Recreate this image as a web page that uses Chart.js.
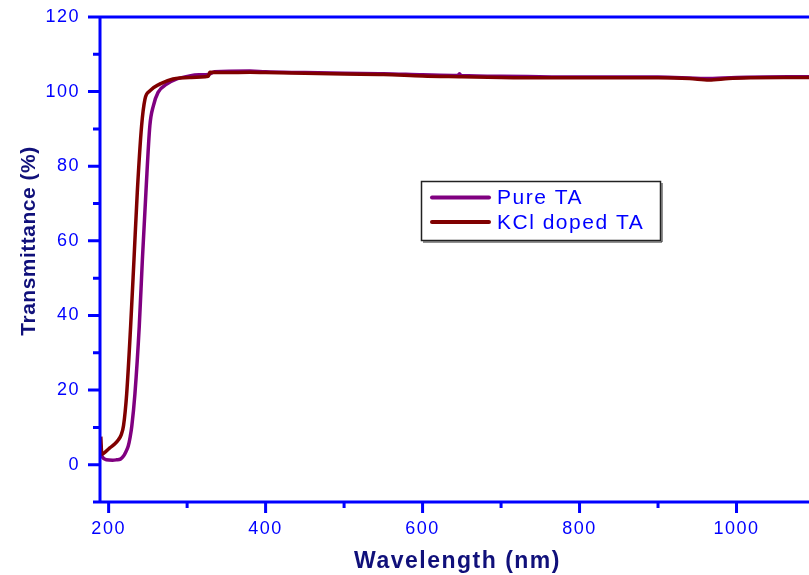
<!DOCTYPE html>
<html>
<head>
<meta charset="utf-8">
<title>Transmittance</title>
<script src="https://cdn.jsdelivr.net/npm/chart.js@4.4.1/dist/chart.umd.min.js"></script>
<style>
  html, body { margin: 0; padding: 0; background: #fff; overflow: hidden; }
  #wrap { width: 809px; height: 575px; overflow: hidden; }
</style>
</head>
<body>
<div id="wrap"><canvas id="uv_chart" width="816" height="575"></canvas></div>
<script>
// values
const pureWl = [190, 191.5, 197, 205, 210, 215, 219, 222, 225, 227.5, 229.5, 233.5, 239, 243, 247.5, 252.5, 257, 263, 274, 287, 303, 315, 327, 335, 380, 400, 450, 500, 550, 600, 645, 647, 649, 700, 800, 900, 960, 1000, 1100];
const pureT = [3, 2.2, 1.3, 1.2, 1.3, 1.5, 2.3, 3.5, 5, 7.5, 10.3, 19, 37, 55, 73, 90.8, 96.2, 99.8, 102, 103.4, 104.2, 104.5, 104.6, 105.3, 105.5, 105.3, 105.1, 104.9, 104.8, 104.5, 104.3, 104.8, 104.3, 104.1, 103.9, 103.9, 103.5, 103.8, 104];

const kclWl = [190, 191.3, 194, 201.5, 208, 212.5, 216, 219, 223, 228, 232.3, 236.5, 242, 246.3, 252.5, 265, 282, 303, 327, 329, 350, 380, 400, 450, 500, 550, 600, 650, 700, 750, 800, 850, 900, 940, 965, 990, 1020, 1060, 1100];
const kclT = [7.5, 2.8, 3.1, 4.5, 5.6, 6.7, 8, 10.5, 19, 37, 55, 73, 90.8, 98, 100.2, 102, 103.4, 103.8, 104.1, 105.2, 105.1, 105.2, 105.1, 104.9, 104.7, 104.6, 104.2, 104.0, 103.8, 103.7, 103.7, 103.7, 103.7, 103.5, 103.1, 103.5, 103.7, 103.8, 103.8];

const seriesNames = ["Pure TA", "KCl doped TA"];
const xTickLabels = [200, 400, 600, 800, 1000];
const yTickLabels = [0, 20, 40, 60, 80, 100, 120];
const yTitle = "Transmittance (%)";

const axisBlue = "#0000ff";
const titleNavy = "#10107a";
const fontFamily = '"Liberation Sans", Arial, sans-serif';

const toPoints = (xs, ys) => xs.map((x, i) => ({ x: x, y: ys[i] }));

// no extra room for label overflow, the plot box is fixed
const fixBox = (s, size) => {
  if (s.isHorizontal()) s.height = size; else s.width = size;
  s.paddingTop = 0;
  s.paddingBottom = 0;
  s.paddingLeft = 0;
  s.paddingRight = 0;
};

// axes frame, tick marks, y title and the boxed legend
const frameAxes = {
  id: "frameAxes",
  beforeUpdate(chart) { chart.ctx.letterSpacing = "1.5px"; },
  beforeDraw(chart) { chart.ctx.letterSpacing = "1.5px"; },
  afterDraw(chart) {
    const ctx = chart.ctx;
    const a = chart.chartArea;
    const x = chart.scales.x;
    const y = chart.scales.y;
    ctx.save();
    ctx.strokeStyle = axisBlue;
    ctx.lineWidth = 3;
    ctx.beginPath();
    ctx.moveTo(a.left - 6, a.bottom);
    ctx.lineTo(a.right + 2, a.bottom);
    ctx.moveTo(a.left, a.bottom + 1);
    ctx.lineTo(a.left, a.top);
    ctx.lineTo(a.right + 2, a.top);
    x.ticks.forEach(t => {
      const px = x.getPixelForValue(t.value);
      const len = xTickLabels.includes(t.value) ? 11 : 6;
      ctx.moveTo(px, a.bottom);
      ctx.lineTo(px, a.bottom + len);
    });
    y.ticks.forEach(t => {
      const py = y.getPixelForValue(t.value);
      const len = yTickLabels.includes(t.value) ? 12 : 7;
      ctx.moveTo(a.left, py);
      ctx.lineTo(a.left - len, py);
    });
    ctx.stroke();

    // y title sits a little above the middle of the axis
    ctx.save();
    ctx.translate(29, 241);
    ctx.rotate(-Math.PI / 2);
    ctx.letterSpacing = "0.5px";
    ctx.font = "bold 21px " + fontFamily;
    ctx.fillStyle = titleNavy;
    ctx.textAlign = "center";
    ctx.textBaseline = "middle";
    ctx.fillText(yTitle, 0, 0);
    ctx.restore();

    // legend box
    ctx.lineWidth = 1.5;
    ctx.strokeStyle = "#222";
    ctx.strokeRect(421.5, 181.5, 239, 59);
    ctx.lineWidth = 1;
    ctx.beginPath();
    ctx.moveTo(423, 242);
    ctx.lineTo(662, 242);
    ctx.lineTo(662, 183);
    ctx.stroke();

    const rows = [197.5, 222];
    ctx.font = "21px " + fontFamily;
    ctx.textBaseline = "middle";
    ctx.fillStyle = axisBlue;
    chart.data.datasets.forEach((ds, i) => {
      ctx.strokeStyle = ds.borderColor;
      ctx.lineWidth = 4;
      ctx.lineCap = "round";
      ctx.beginPath();
      ctx.moveTo(432, rows[i]);
      ctx.lineTo(489, rows[i]);
      ctx.stroke();
      ctx.fillText(ds.label, 497, rows[i] + 1);
    });
    ctx.restore();
  }
};

const config = {
  type: "line",
  data: {
    datasets: [
      {
        label: seriesNames[0],
        data: toPoints(pureWl, pureT),
        borderColor: "#800080",
        borderWidth: 3.5,
        pointRadius: 0,
        cubicInterpolationMode: "monotone",
        order: 2,
      },
      {
        label: seriesNames[1],
        data: toPoints(kclWl, kclT),
        borderColor: "#800000",
        borderWidth: 3.5,
        pointRadius: 0,
        cubicInterpolationMode: "monotone",
        order: 1,
      },
    ],
  },
  options: {
    responsive: false,
    animation: false,
    devicePixelRatio: 1,
    layout: { padding: { top: 17, right: 1, left: 0, bottom: 0 } },
    plugins: { legend: { display: false }, tooltip: { enabled: false } },
    scales: {
      x: {
        type: "linear",
        min: 189,
        max: 1100,
        afterFit: s => fixBox(s, 73),
        grid: { display: false, drawTicks: false },
        border: { display: false },
        ticks: {
          stepSize: 100,
          includeBounds: false,
          autoSkip: false,
          maxRotation: 0,
          padding: 16,
          color: axisBlue,
          font: { family: fontFamily, size: 18 },
          callback: v => (xTickLabels.includes(v) ? String(v) : ""),
        },
        title: {
          display: true,
          text: "Wavelength (nm)",
          color: titleNavy,
          padding: { top: 0, bottom: 0 },
          font: { family: fontFamily, size: 23, weight: "bold", lineHeight: 1.15 },
        },
      },
      y: {
        min: -10,
        max: 120,
        afterFit: s => fixBox(s, 100),
        grid: { display: false, drawTicks: false },
        border: { display: false },
        ticks: {
          stepSize: 10,
          autoSkip: false,
          padding: 20,
          color: axisBlue,
          font: { family: fontFamily, size: 18 },
          callback: v => (yTickLabels.includes(v) ? String(v) : ""),
        },
        title: { display: false },
      },
    },
  },
  plugins: [frameAxes],
};

const myChart = new Chart(document.getElementById("uv_chart"), config);
</script>
</body>
</html>
